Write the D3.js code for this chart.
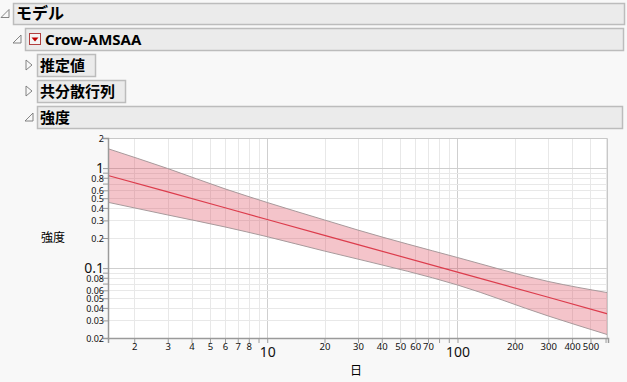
<!DOCTYPE html>
<html>
<head>
<meta charset="utf-8">
<script src="https://cdn.jsdelivr.net/npm/d3@7"></script>
<style>
  body { margin: 0; background: #f8f8f8; }
  svg { display: block; }
</style>
</head>
<body>
<svg id="chart" width="627" height="382"></svg>
<script>
// values (days vs. intensity, log-log)
const days      = [1.456, 3, 6, 10, 20, 30, 100, 300, 615];
const intensity = [0.843, 0.578, 0.401, 0.306, 0.2126, 0.1718, 0.0912, 0.0511, 0.0348];
const upper     = [1.563, 0.99, 0.62, 0.453, 0.303, 0.240, 0.1276, 0.0735, 0.0568];
const lower     = [0.455, 0.340, 0.258, 0.206, 0.148, 0.123, 0.0678, 0.0332, 0.0216];

const yTicks = [2, 1, 0.9, 0.8, 0.7, 0.6, 0.5, 0.4, 0.3, 0.2, 0.1, 0.09, 0.08, 0.07, 0.06, 0.05, 0.04, 0.03, 0.02];
const yLabels = [2, 1, 0.8, 0.6, 0.5, 0.4, 0.3, 0.2, 0.1, 0.08, 0.06, 0.05, 0.04, 0.03, 0.02];
const xTicks = [2, 3, 4, 5, 6, 7, 8, 9, 10, 20, 30, 40, 50, 60, 70, 80, 90, 100, 200, 300, 400, 500, 600];
const xLabels = [2, 3, 4, 5, 6, 7, 8, 10, 20, 30, 40, 50, 60, 70, 100, 200, 300, 400, 500];
const bigTicks = [1, 0.1, 10, 100];

const svg = d3.select("#chart");
const font = "'Noto Sans', 'Noto Sans CJK JP', sans-serif";
const jpFont = "'Noto Sans CJK JP', sans-serif";

// ---- outline headers
function outlineBox(x, y, w, h, label, open, opts = {}) {
  svg.append("rect")
    .attr("x", x + 0.5).attr("y", y + 0.5)
    .attr("width", w).attr("height", h)
    .attr("fill", "#ebebeb").attr("stroke", "#bcbcbc").attr("stroke-width", 1.5);
  const tx = x - 10, ty = y + h / 2;
  if (open) {
    svg.append("path")
      .attr("d", `M${tx + 6},${ty - 4} L${tx + 6},${ty + 4} L${tx - 2},${ty + 4} Z`)
      .attr("fill", "none").attr("stroke", "#777").attr("stroke-width", 0.9);
  } else {
    svg.append("path")
      .attr("d", `M${tx - 1},${ty - 5} L${tx + 5},${ty} L${tx - 1},${ty + 5} Z`)
      .attr("fill", "none").attr("stroke", "#777").attr("stroke-width", 0.9);
  }
  svg.append("text")
    .attr("x", x + (opts.dx || 3)).attr("y", y + h / 2 + 5.5)
    .attr("font-family", opts.latin ? font : jpFont)
    .attr("font-weight", "bold").attr("font-size", opts.size || 15)
    .attr("fill", "#000").text(label);
}

outlineBox(13, 3, 611, 21, "モデル", true, { size: 16 });
outlineBox(25, 28, 598, 22, "Crow-AMSAA", true, { latin: true, dx: 20, size: 15 });
outlineBox(37, 54, 58, 22, "推定値", false);
outlineBox(37, 80, 88, 22, "共分散行列", false);
outlineBox(37, 106, 585, 22, "強度", true);

// red popup icon
svg.append("rect").attr("x", 29.5).attr("y", 33.5).attr("width", 11).attr("height", 11)
  .attr("fill", "#f4f4f4").attr("stroke", "#b04040").attr("stroke-width", 1);
svg.append("path").attr("d", "M31.5,37.5 L38.5,37.5 L35,41.5 Z").attr("fill", "#c00000");

// ---- chart
const x = d3.scaleLog().domain([1.456, 618]).range([108, 608]);
const y = d3.scaleLog().domain([0.02, 2]).range([338, 138]);

const g = svg.append("g");
g.append("rect").attr("x", 108).attr("y", 138).attr("width", 500).attr("height", 200).attr("fill", "#fff");

// gridlines
g.selectAll(".gx").data(xTicks).join("line")
  .attr("x1", d => Math.round(x(d)) + 0.5).attr("x2", d => Math.round(x(d)) + 0.5)
  .attr("y1", 138).attr("y2", 338)
  .attr("stroke", d => bigTicks.includes(d) ? "#cfcfcf" : "#e8e8e8").attr("stroke-width", 1);
g.selectAll(".gy").data(yTicks.filter(d => d !== 2 && d !== 0.02)).join("line")
  .attr("y1", d => Math.round(y(d)) + 0.5).attr("y2", d => Math.round(y(d)) + 0.5)
  .attr("x1", 108).attr("x2", 608)
  .attr("stroke", d => bigTicks.includes(d) ? "#cfcfcf" : "#e8e8e8").attr("stroke-width", 1);

// confidence band
const area = d3.area().curve(d3.curveMonotoneX)
  .x((d, i) => x(days[i])).y0((d, i) => y(lower[i])).y1((d, i) => y(upper[i]));
g.append("path").datum(days).attr("d", area).attr("fill", "rgba(220,60,80,0.3)");
const edge = (arr, curve) => d3.line().curve(curve).x((d, i) => x(days[i])).y((d, i) => y(arr[i]))(days);
g.append("path").attr("d", edge(upper, d3.curveMonotoneX)).attr("fill", "none").attr("stroke", "#a89a9c").attr("stroke-width", 1);
g.append("path").attr("d", edge(lower, d3.curveMonotoneX)).attr("fill", "none").attr("stroke", "#a89a9c").attr("stroke-width", 1);
g.append("path").attr("d", edge(intensity, d3.curveLinear)).attr("fill", "none").attr("stroke", "#dc3c4c").attr("stroke-width", 1.2);

// frame
g.append("path").attr("d", "M108,138.5 H607.5 V338").attr("fill", "none").attr("stroke", "#c8c8c8").attr("stroke-width", 1);

// axes
const yAxis = d3.axisLeft(y).tickValues(yTicks).tickSize(5)
  .tickFormat(d => yLabels.includes(d) ? String(d) : "");
const yg = g.append("g").attr("transform", "translate(108,0)").call(yAxis);
yg.select(".domain").attr("stroke", "#9a9a9a").attr("stroke-width", 1.5);
yg.selectAll(".tick line").attr("stroke", "#9a9a9a");
yg.selectAll(".tick text")
  .attr("font-family", font).attr("fill", "#111")
  .attr("font-size", d => bigTicks.includes(d) ? 14 : 9)
  .attr("dy", d => bigTicks.includes(d) ? "0.32em" : "0.36em")
  .attr("x", -4);

const xAxis = d3.axisBottom(x).tickValues(xTicks).tickSize(5)
  .tickFormat(d => xLabels.includes(d) ? String(d) : "");
const xg = g.append("g").attr("transform", "translate(0,338)").call(xAxis);
xg.select(".domain").attr("stroke", "#9a9a9a").attr("stroke-width", 1.5);
xg.selectAll(".tick line").attr("stroke", "#9a9a9a");
xg.selectAll(".tick text")
  .attr("font-family", font).attr("fill", "#111")
  .attr("font-size", d => bigTicks.includes(d) ? 14 : 9.5)
  .attr("y", d => bigTicks.includes(d) ? 9 : 5);

// axis titles
svg.append("text").attr("x", 53).attr("y", 242).attr("text-anchor", "middle")
  .attr("font-family", jpFont).attr("font-size", 12).attr("fill", "#000").text("強度");
svg.append("text").attr("x", 356).attr("y", 375).attr("text-anchor", "middle")
  .attr("font-family", jpFont).attr("font-size", 12).attr("fill", "#000").text("日");
</script>
</body>
</html>
